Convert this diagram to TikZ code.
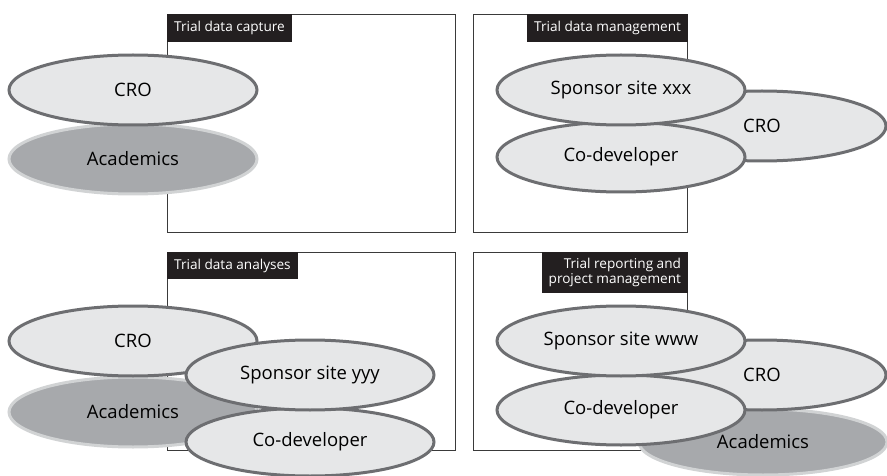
\documentclass[tikz,border=0pt]{standalone}
\usepackage{fontspec}
\setmainfont{Open Sans}
\usetikzlibrary{shapes.geometric}
\definecolor{lightfill}{HTML}{E6E7E8}
\definecolor{midfill}{HTML}{A7A9AC}
\definecolor{ringdark}{HTML}{6D6E71}
\definecolor{ringlight}{HTML}{D1D3D4}
\definecolor{tagblack}{HTML}{231F20}
\definecolor{boxline}{HTML}{3A3A3A}
\begin{document}
\begin{tikzpicture}[x=1pt,y=-1pt,
  panel/.style={draw=boxline, line width=1.2pt, anchor=north west, inner sep=0pt,
    minimum width=288pt, minimum height=218pt},
  panelnarrow/.style={panel, minimum width=214pt, minimum height=218pt},
  tag/.style={fill=tagblack, text=white, inner xsep=7pt, inner ysep=0pt,
    font=\fontsize{13.6}{15}\selectfont},
  party/.style={ellipse, draw=ringdark, fill=lightfill, line width=3pt,
    minimum width=248pt, minimum height=70pt, inner sep=0pt,
    font=\fontsize{18.5}{22}\selectfont},
  academic/.style={party, draw=ringlight, fill=midfill}]
\useasboundingbox (0,0) rectangle (887,476);
\clip (0,0) rectangle (887,476);

% panel frames
\node[panel] (p1) at (167,14) {};
\node[panelnarrow] (p2) at (473,14) {};
\node[panel, minimum height=198pt] (p3) at (167,252) {};
\node[panelnarrow, minimum height=198pt] (p4) at (473,252) {};

% panel titles
\node[tag, anchor=north west, minimum height=28pt] (t1) at (p1.north west) {Trial data capture};
\node[tag, anchor=north east, minimum height=28pt] (t2) at (p2.north east) {Trial data management};
\node[tag, anchor=north west, minimum height=27pt] (t3) at (p3.north west) {Trial data analyses};
\node[tag, anchor=north east, minimum height=41pt, align=right] (t4) at (p4.north east)
  {Trial reporting and\\project management};

% trial data capture
\node[academic] (acad1) at (133,159) {Academics};
\node[party] (cro1) at (133,90) {CRO};

% trial data management
\node[party] (cro2) at (762,126) {CRO};
\node[party] (codev2) at (621,157) {Co-developer};
\node[party] (spons2) at (621,90) {Sponsor site xxx};

% trial data analyses
\node[academic] (acad3) at (133,412) {Academics};
\node[party] (cro3) at (133,341) {CRO};
\node[party, minimum height=68pt] (codev3) at (310,442) {Co-developer};
\node[party] (spons3) at (310,375) {Sponsor site yyy};

% trial reporting and project management
\node[academic, minimum height=66pt] (acad4) at (763,442) {Academics};
\node[party] (cro4) at (762,375) {CRO};
\node[party] (codev4) at (621,410) {Co-developer};
\node[party] (spons4) at (621,341) {Sponsor site www};
\end{tikzpicture}
\end{document}
